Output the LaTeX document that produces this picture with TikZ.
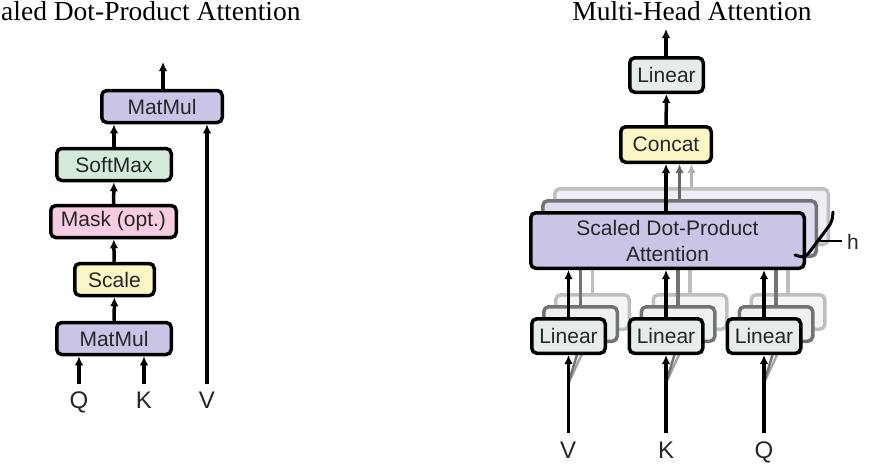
\documentclass[tikz,border=0pt]{standalone}
\usepackage{fontspec}
\setmainfont{Liberation Serif}
\setsansfont{Liberation Sans}
\usepackage{tikz}
\usetikzlibrary{arrows.meta,positioning}

\definecolor{MMPurple}{RGB}{201,197,231}
\definecolor{SMGreen}{RGB}{211,236,218}
\definecolor{MKPink}{RGB}{246,204,224}
\definecolor{SCYellow}{RGB}{252,246,198}
\definecolor{LNGray}{RGB}{230,236,234}

\begin{document}
\begin{tikzpicture}[x=1pt,y=-1pt]
			\tikzstyle{Box}		= [draw, line width=3.5pt, rounded corners=5pt, inner sep=0pt, minimum height=32pt, font=\sffamily\fontsize{21}{26}\selectfont, text=black!85]
			\tikzstyle{Purple}	= [fill=MMPurple]
			\tikzstyle{Green}	= [fill=SMGreen]
			\tikzstyle{Pink}	= [fill=MKPink]
			\tikzstyle{Yellow}	= [fill=SCYellow]
			\tikzstyle{Gray}	= [fill=LNGray]
			\tikzstyle{Back1}	= [draw=black!55]
			\tikzstyle{Back2}	= [draw=black!25]
			\tikzstyle{Arr}		= [line width=3.5pt, -{Latex[length=9pt,width=8.5pt]}]
			\tikzstyle{Title}	= [font=\rmfamily\fontsize{27.5}{30}\selectfont, inner sep=0pt]
			\tikzstyle{Input}	= [font=\sffamily\fontsize{24}{26}\selectfont, inner sep=0pt, anchor=base, text=black!85]
			
			\useasboundingbox (0,0) rectangle (874,469);
			
			% scaled dot-product attention
			\node (t1) at (1, 20.5) [Title, anchor=base west] {aled Dot-Product Attention};
			\node (mm2) at (162, 106.5) [Box][Purple, minimum width=120.5pt] {MatMul};
			\node (sm) at (114, 164.5) [Box][Green, minimum width=114.5pt] {SoftMax};
			\node (mask) at (113.5, 221.5) [Box][Pink, minimum width=125.5pt] {Mask (opt.)};
			\node (scale) at (114.5, 279.5) [Box][Yellow, minimum width=79.5pt] {Scale};
			\node (mm1) at (114, 338.5) [Box][Purple, minimum width=114.5pt] {MatMul};
			\coordinate (out1) at (163, 62);
			\coordinate (q1) at (79, 384);
			\coordinate (k1) at (144, 384);
			\coordinate (v1) at (207, 384);
			\node (lq1) at (79, 408) [Input] {Q};
			\node (lk1) at (144, 408) [Input] {K};
			\node (lv1) at (207, 408) [Input] {V};
			
			\draw (q1) to (q1 |- mm1.south) [Arr];
			\draw (k1) to (k1 |- mm1.south) [Arr];
			\draw (mm1) to (scale) [Arr];
			\draw (scale) to (mask) [Arr];
			\draw (mask) to (sm) [Arr];
			\draw (sm.north) to (sm.north |- mm2.south) [Arr];
			\draw (v1) to (v1 |- mm2.south) [Arr];
			\draw (mm2.north -| out1) to (out1) [Arr];
			
			% multi-head attention
			\node (t2) at (692, 20.5) [Title, anchor=base] {Multi-Head Attention};
			\node (sdpa3) at (691.5, 216.5) [Box][fill=MMPurple!30, Back2, minimum width=273.5pt, minimum height=55.5pt] {};
			\node (sdpa2) at (679.5, 228.5) [Box][fill=MMPurple!60, Back1, minimum width=273.5pt, minimum height=55.5pt] {};
			\foreach \x/\n in {568.5/a, 666/b, 764/c} {
				\node (lin\n3) at (\x+24, 312) [Box][fill=LNGray!40, Back2, minimum width=73.5pt, minimum height=34.5pt] {};
				\node (lin\n2) at (\x+12, 324) [Box][fill=LNGray!70, Back1, minimum width=73.5pt, minimum height=34.5pt] {};
				\coordinate (in\n) at (\x, 433);
				\coordinate (sl\n) at (\x, 383);
				\draw (sl\n) to (lin\n3.south) [line width=2.5pt, black!35];
				\draw (sl\n) to (lin\n2.south) [line width=2.5pt, black!55];
				\draw (lin\n3.north) to (lin\n3.north |- sdpa3.south) [Arr, black!25];
				\draw (lin\n2.north) to (lin\n2.north |- sdpa2.south) [Arr, black!55];
			}
			\node (sdpa) at (667.5, 240.5) [Box][Purple, minimum width=273.5pt, minimum height=55.5pt, align=center] {Scaled Dot-Product\\Attention};
			\node (lina) at (568.5, 336) [Box][Gray, minimum width=73.5pt, minimum height=34.5pt] {Linear};
			\node (linb) at (666, 336) [Box][Gray, minimum width=73.5pt, minimum height=34.5pt] {Linear};
			\node (linc) at (764, 336) [Box][Gray, minimum width=73.5pt, minimum height=34.5pt] {Linear};
			\node (concat) at (666, 144.5) [Box][Yellow, minimum width=90.5pt, minimum height=35.5pt] {Concat};
			\node (lint) at (666.5, 75) [Box][Gray, minimum width=73.5pt, minimum height=34.5pt] {Linear};
			\coordinate (out2) at (666, 29);
			\node (lv2) at (568, 458) [Input] {V};
			\node (lk2) at (666, 458) [Input] {K};
			\node (lq2) at (764, 458) [Input] {Q};
			
			\draw (ina) to (lina) [Arr];
			\draw (inb) to (linb) [Arr];
			\draw (inc) to (linc) [Arr];
			\draw (lina.north) to (lina.north |- sdpa.south) [Arr];
			\draw (linb.north) to (linb.north |- sdpa.south) [Arr];
			\draw (linc.north) to (linc.north |- sdpa.south) [Arr];
			\draw (sdpa3.north) to (sdpa3.north |- concat.south) [Arr, black!30];
			\draw (sdpa2.north) to (sdpa2.north |- concat.south) [Arr, black!60];
			\draw (concat.south |- sdpa.north) to (concat.south) [Arr];
			\draw (concat) to (lint) [Arr];
			\draw (lint.north -| out2) to (out2) [Arr];
			
			% h heads
			\coordinate (br1) at (795, 255);
			\coordinate (br2) at (833, 212);
			\draw (br1) [rounded corners=5pt] -- (805, 258) -- (832, 222) -- (br2) [line width=3pt, line cap=round];
			\node (h) at (853, 249) [Input, font=\sffamily\fontsize{21}{24}\selectfont] {h};
			\draw (819, 241) to (842, 241) [line width=2.5pt];
		\end{tikzpicture}
\end{document}
